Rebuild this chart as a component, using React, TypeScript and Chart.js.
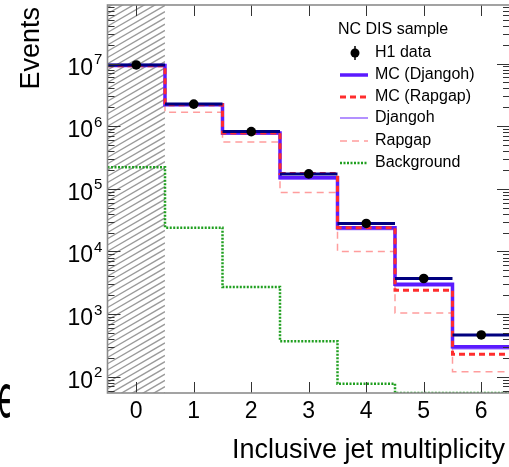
import React, { useEffect, useRef } from "react";
import { Chart, registerables } from "chart.js";

Chart.register(...registerables);

// ---------- data ----------
const binEdges = [-0.5, 0.5, 1.5, 2.5, 3.5, 4.5, 5.5, 6.5];
const binCenters = [0, 1, 2, 3, 4, 5, 6];
const h1Data = [9.5e6, 2.25e6, 8.2e5, 1.73e5, 2.8e4, 3.7e3, 465];
const mcDjangoh = [9.3e6, 2.2e6, 7.8e5, 1.5e5, 2.4e4, 3.0e3, 300];
const mcRapgap = [9.2e6, 2.2e6, 7.8e5, 1.75e5, 2.4e4, 2.4e3, 228];
const djangoh = [9.1e6, 2.15e6, 7.5e5, 1.45e5, 2.25e4, 2.8e3, 280];
const rapgap = [9.2e6, 1.67e6, 5.6e5, 8.7e4, 1.0e4, 1.04e3, 120];
const background = [2.2e5, 2.4e4, 2.7e3, 370, 77, 55, 55];
const hatchRange = [-0.5, 0.5];
const xTicks = [0, 1, 2, 3, 4, 5, 6];
const yDecades = [2, 3, 4, 5, 6, 7];
const xRange = [-0.5, 6.5];
const yRange = [55, 8.6e7];
const legendTitle = "NC DIS sample";
const legendLabels = ["H1 data", "MC (Djangoh)", "MC (Rapgap)", "Djangoh", "Rapgap", "Background"];
const xTitle = "Inclusive jet multiplicity";
const yTitle = "Events";

// ---------- styles ----------
const C_NAVY = "#00007f";
const C_MCDJ = "#5b1aff";
const C_MCRG = "#ff2d2d";
const C_DJ = "#9a6cff";
const C_RG = "#ff9d9d";
const C_BG = "#1f9f1f";
const FONT = "'Liberation Sans', Arial, Helvetica, sans-serif";

function stepPoints(vals: number[]) {
  const pts = vals.map((v, i) => ({ x: binEdges[i], y: v }));
  pts.push({ x: binEdges[vals.length], y: vals[vals.length - 1] });
  return pts;
}

function barPoints(vals: number[]) {
  const pts: { x: number; y: number | null }[] = [];
  vals.forEach((v, i) => {
    pts.push({ x: binEdges[i], y: v });
    pts.push({ x: binEdges[i + 1], y: v });
    pts.push({ x: binEdges[i + 1], y: null });
  });
  return pts;
}

const hatchPlugin = {
  id: "hatch",
  beforeDatasetsDraw(chart: any) {
    const { ctx, chartArea: ca, scales } = chart;
    const x0 = scales.x.getPixelForValue(hatchRange[0]);
    const x1 = scales.x.getPixelForValue(hatchRange[1]);
    ctx.save();
    ctx.beginPath();
    ctx.rect(x0, ca.top, x1 - x0, ca.bottom - ca.top);
    ctx.clip();
    ctx.strokeStyle = "#9a9a9a";
    ctx.lineWidth = 1.4;
    const w = x1 - x0;
    const slope = 0.58;
    for (let c = ca.top - w * slope - 10; c < ca.bottom + 10; c += 6.25) {
      ctx.beginPath();
      ctx.moveTo(x0, c + w * slope);
      ctx.lineTo(x1, c);
      ctx.stroke();
    }
    ctx.restore();
  },
};

const framePlugin = {
  id: "frame",
  afterDatasetsDraw(chart: any) {
    const { ctx, chartArea: ca, scales } = chart;
    const xs = scales.x;
    const ys = scales.y;
    ctx.save();
    // ticks
    ctx.strokeStyle = "#333";
    ctx.lineWidth = 1;
    xTicks.forEach((t) => {
      const px = Math.round(xs.getPixelForValue(t)) + 0.5;
      ctx.beginPath();
      ctx.moveTo(px, ca.bottom);
      ctx.lineTo(px, ca.bottom - 11);
      ctx.moveTo(px, ca.top);
      ctx.lineTo(px, ca.top + 11);
      ctx.stroke();
    });
    for (let n = 1; n <= 7; n++) {
      for (let k = 1; k <= 9; k++) {
        const v = k * Math.pow(10, n);
        if (v < yRange[0] || v > yRange[1]) continue;
        const py = Math.round(ys.getPixelForValue(v)) + 0.5;
        const len = k === 1 ? 13 : 7;
        ctx.beginPath();
        ctx.moveTo(ca.left, py);
        ctx.lineTo(ca.left + len, py);
        ctx.moveTo(ca.right, py);
        ctx.lineTo(ca.right - len, py);
        ctx.stroke();
      }
    }
    // frame
    ctx.strokeStyle = "#8c8c8c";
    ctx.lineWidth = 1.6;
    ctx.strokeRect(ca.left, ca.top, ca.right - ca.left, ca.bottom - ca.top);

    // x tick labels
    ctx.fillStyle = "#000";
    ctx.font = `23px ${FONT}`;
    ctx.textAlign = "center";
    ctx.textBaseline = "alphabetic";
    xTicks.forEach((t) => {
      ctx.fillText(String(t), xs.getPixelForValue(t), 418);
    });
    // y tick labels
    yDecades.forEach((n) => {
      const py = ys.getPixelForValue(Math.pow(10, n));
      ctx.font = `23px ${FONT}`;
      ctx.textAlign = "right";
      ctx.fillText("10", 93, py + 11);
      ctx.font = `15px ${FONT}`;
      ctx.textAlign = "left";
      ctx.fillText(String(n), 94, py + 0.5);
    });
    // axis titles
    ctx.font = `27px ${FONT}`;
    ctx.textAlign = "right";
    ctx.fillText(xTitle, 505, 458);
    ctx.save();
    ctx.translate(39, 7);
    ctx.rotate(-Math.PI / 2);
    ctx.textAlign = "right";
    ctx.fillText(yTitle, 0, 0);
    ctx.restore();
    // clipped glyph at left edge
    ctx.save();
    ctx.translate(-2, 417);
    ctx.scale(0.62, 1.45);
    ctx.font = "40px 'DejaVu Sans'";
    ctx.textAlign = "left";
    ctx.fillText("\u03f5", 0, 0);
    ctx.restore();

    // legend
    ctx.font = `16px ${FONT}`;
    ctx.textBaseline = "middle";
    ctx.textAlign = "left";
    ctx.fillText(legendTitle, 338, 30);
    const rows = [53, 75, 97, 118, 141, 163];
    const sx0 = 340, sx1 = 368;
    legendLabels.forEach((lab, i) => {
      ctx.fillStyle = "#000";
      ctx.fillText(lab, 375, rows[i]);
    });
    const line = (y: number, color: string, w: number, dash: number[]) => {
      ctx.beginPath();
      ctx.setLineDash(dash);
      ctx.strokeStyle = color;
      ctx.lineWidth = w;
      ctx.moveTo(sx0, y);
      ctx.lineTo(sx1, y);
      ctx.stroke();
      ctx.setLineDash([]);
    };
    // H1 data
    ctx.strokeStyle = "#000";
    ctx.lineWidth = 1.5;
    ctx.beginPath();
    ctx.moveTo(355, rows[0] - 7);
    ctx.lineTo(355, rows[0] + 7);
    ctx.stroke();
    ctx.beginPath();
    ctx.arc(355, rows[0], 4.5, 0, Math.PI * 2);
    ctx.fillStyle = "#000";
    ctx.fill();
    line(rows[1], C_MCDJ, 3.5, []);
    line(rows[2], C_MCRG, 3, [6, 4]);
    line(rows[3], C_DJ, 1.5, []);
    line(rows[4], C_RG, 1.5, [7, 5]);
    line(rows[5], C_BG, 2.5, [2, 1.5]);
    ctx.restore();
  },
};

export default function App() {
  const ref = useRef<HTMLCanvasElement>(null);
  useEffect(() => {
    const chart = new Chart(ref.current as HTMLCanvasElement, {
      type: "line",
      data: {
        datasets: [
          {
            label: "H1 data",
            data: binCenters.map((x, i) => ({ x, y: h1Data[i] })),
            showLine: false,
            pointRadius: 4.8,
            pointBackgroundColor: "#000",
            pointBorderColor: "#000",
            pointBorderWidth: 0,
            order: 0,
          },
          {
            label: "H1 data bins",
            data: barPoints(h1Data) as any,
            borderColor: C_NAVY,
            borderWidth: 3,
            pointRadius: 0,
            spanGaps: false,
            order: 1,
          },
          {
            label: "MC (Rapgap)",
            data: stepPoints(mcRapgap),
            borderColor: C_MCRG,
            borderWidth: 3,
            borderDash: [6, 4],
            stepped: "before",
            pointRadius: 0,
            order: 2,
          },
          {
            label: "MC (Djangoh)",
            data: stepPoints(mcDjangoh),
            borderColor: C_MCDJ,
            borderWidth: 3.5,
            stepped: "before",
            pointRadius: 0,
            order: 3,
          },
          {
            label: "Background",
            data: stepPoints(background),
            borderColor: C_BG,
            borderWidth: 2.5,
            borderDash: [2, 1.5],
            stepped: "before",
            pointRadius: 0,
            order: 4,
          },
          {
            label: "Djangoh",
            data: stepPoints(djangoh),
            borderColor: C_DJ,
            borderWidth: 1.5,
            stepped: "before",
            pointRadius: 0,
            order: 5,
          },
          {
            label: "Rapgap",
            data: stepPoints(rapgap),
            borderColor: C_RG,
            borderWidth: 1.5,
            borderDash: [7, 5],
            stepped: "before",
            pointRadius: 0,
            order: 6,
          },
        ],
      },
      options: {
        responsive: false,
        animation: false,
        devicePixelRatio: 1,
        events: [],
        layout: { padding: { left: 107.5, top: 5, right: 10, bottom: 74 } },
        scales: {
          x: { type: "linear", min: xRange[0], max: xRange[1], display: false },
          y: { type: "logarithmic", min: yRange[0], max: yRange[1], display: false },
        },
        plugins: { legend: { display: false }, tooltip: { enabled: false } },
      },
      plugins: [hatchPlugin, framePlugin],
    });
    return () => chart.destroy();
  }, []);
  return (
    <div
      style={{
        position: "fixed",
        left: 0,
        top: 0,
        width: 509,
        height: 467,
        overflow: "hidden",
        background: "#fff",
      }}
    >
      <canvas ref={ref} width={520} height={467} style={{ display: "block" }} />
    </div>
  );
}
